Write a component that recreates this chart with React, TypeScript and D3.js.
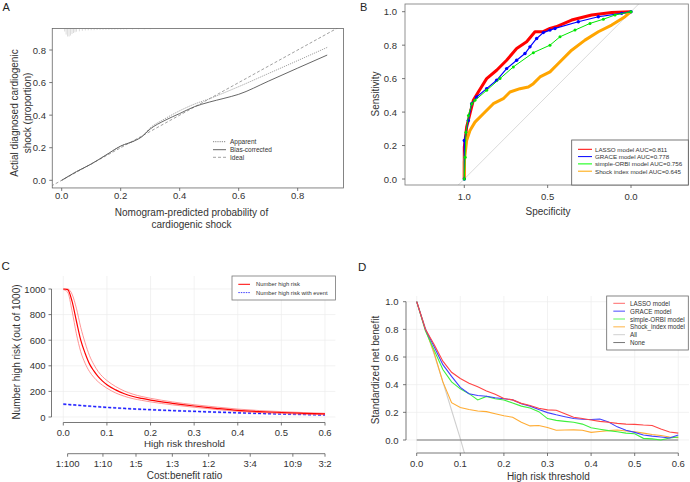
import React from "react";
import * as d3 from "d3";

const FONT = "'Liberation Sans', Arial, Helvetica, sans-serif";
const TXT = "#333";
const AX = "#555";

// ---------- A: calibration curve
const calX = [0, 0.05, 0.1, 0.15, 0.2, 0.25, 0.27, 0.3, 0.35, 0.4, 0.45, 0.5, 0.55, 0.6, 0.7, 0.8, 0.9];
const calApparent = [0, 0.053, 0.1, 0.155, 0.21, 0.245, 0.268, 0.322, 0.378, 0.427, 0.468, 0.5, 0.537, 0.575, 0.655, 0.735, 0.816];
const calBias = [0, 0.053, 0.1, 0.155, 0.21, 0.245, 0.265, 0.315, 0.368, 0.41, 0.452, 0.48, 0.503, 0.528, 0.608, 0.689, 0.769];
const idealX = [-0.05, 1];
const rugX = [0.01, 0.015, 0.02, 0.025, 0.03, 0.035, 0.04, 0.045, 0.05, 0.06, 0.07, 0.08, 0.09, 0.1, 0.11, 0.12, 0.13, 0.14, 0.15, 0.16, 0.17, 0.18, 0.19, 0.2, 0.21, 0.22, 0.24, 0.26, 0.28, 0.3];
const rugFreq = [30, 60, 80, 80, 70, 55, 45, 38, 32, 28, 24, 20, 18, 17, 16, 15, 14, 14, 13, 13, 12, 12, 11, 11, 10, 10, 10, 9, 8, 8];
const calTicks = [0, 0.2, 0.4, 0.6, 0.8];
const calLegend = ["Apparent", "Bias-corrected", "Ideal"];

// ---------- B: ROC curves
const lassoSpec = [1, 1, 0.986, 0.966, 0.946, 0.916, 0.866, 0.806, 0.746, 0.686, 0.626, 0.576, 0.53, 0.486, 0.45, 0.356, 0.236, 0.116, 0];
const lassoSens = [0, 0.19, 0.31, 0.39, 0.47, 0.52, 0.6, 0.65, 0.71, 0.78, 0.82, 0.88, 0.88, 0.9, 0.91, 0.95, 0.98, 0.995, 1];
const graceSpec = [1, 1, 0.976, 0.956, 0.926, 0.866, 0.806, 0.746, 0.686, 0.636, 0.606, 0.566, 0.526, 0.486, 0.456, 0.316, 0.196, 0.056, 0];
const graceSens = [0, 0.23, 0.35, 0.45, 0.49, 0.54, 0.59, 0.66, 0.71, 0.75, 0.79, 0.84, 0.875, 0.89, 0.9, 0.94, 0.97, 0.99, 1];
const orbiSpec = [1, 0.995, 0.99, 0.975, 0.955, 0.936, 0.866, 0.786, 0.706, 0.586, 0.486, 0.426, 0.336, 0.246, 0.166, 0.096, 0];
const orbiSens = [0, 0.13, 0.28, 0.38, 0.45, 0.47, 0.53, 0.6, 0.67, 0.755, 0.8, 0.85, 0.89, 0.93, 0.955, 0.98, 1];
const shockSpec = [1, 1, 0.995, 0.986, 0.966, 0.936, 0.886, 0.826, 0.766, 0.726, 0.666, 0.616, 0.586, 0.546, 0.486, 0.436, 0.356, 0.276, 0.196, 0.116, 0.036, 0];
const shockSens = [0, 0.1, 0.15, 0.23, 0.29, 0.34, 0.39, 0.45, 0.48, 0.52, 0.54, 0.55, 0.57, 0.61, 0.64, 0.69, 0.77, 0.83, 0.88, 0.92, 0.97, 1];
const rocTicksY = [0, 0.2, 0.4, 0.6, 0.8, 1];
const rocTicksX = [1, 0.5, 0];
const rocLegend = ["LASSO model  AUC=0.811", "GRACE model AUC=0.778", "simple-ORBI model AUC=0.756", "Shock index model AUC=0.645"];

// ---------- C: clinical impact curve
const cicT = [0, 0.01, 0.02, 0.03, 0.04, 0.05, 0.06, 0.07, 0.08, 0.09, 0.1, 0.12, 0.14, 0.16, 0.18, 0.2, 0.25, 0.3, 0.35, 0.4, 0.45, 0.5, 0.55, 0.6];
const highRisk = [1000, 995, 905, 750, 600, 498, 415, 360, 315, 280, 252, 212, 182, 160, 145, 132, 107, 86, 68, 52, 42, 35, 29, 24];
const highRiskUp = [1000, 1000, 960, 850, 700, 580, 480, 410, 355, 315, 285, 238, 203, 178, 160, 146, 118, 96, 78, 62, 50, 42, 35, 29];
const highRiskLo = [995, 975, 830, 650, 510, 420, 355, 310, 275, 248, 225, 188, 162, 143, 130, 118, 95, 76, 59, 44, 35, 28, 22, 18];
const withEvent = [100, 98, 95, 93, 90, 87, 85, 82, 80, 77, 75, 71, 67, 63, 60, 57, 50, 44, 38, 33, 28, 24, 20, 16];
const withEventUp = [104, 102, 99, 97, 94, 91, 89, 86, 84, 81, 79, 75, 71, 67, 64, 61, 54, 48, 42, 37, 32, 28, 24, 20];
const withEventLo = [96, 94, 91, 89, 86, 83, 81, 78, 76, 73, 71, 67, 63, 59, 56, 53, 46, 40, 34, 29, 24, 20, 16, 12];
const cicTicksY = [0, 200, 400, 600, 800, 1000];
const thrTicks = [0, 0.1, 0.2, 0.3, 0.4, 0.5, 0.6];
const costBenefit = ["1:100", "1:10", "1:5", "1:3", "1:2", "3:4", "10:9", "3:2"];
const cicLegend = ["Number high risk", "Number high risk with event"];

// ---------- D: decision curves
const dcaT = [0, 0.02, 0.04, 0.06, 0.08, 0.1, 0.12, 0.14, 0.16, 0.18, 0.2, 0.22, 0.24, 0.26, 0.28, 0.3, 0.32, 0.34, 0.36, 0.38, 0.4, 0.42, 0.44, 0.46, 0.48, 0.5, 0.52, 0.54, 0.56, 0.58, 0.6];
const dcaLasso = [1, 0.8, 0.69, 0.57, 0.49, 0.445, 0.41, 0.385, 0.355, 0.33, 0.3, 0.29, 0.265, 0.25, 0.23, 0.218, 0.215, 0.19, 0.165, 0.155, 0.145, 0.135, 0.128, 0.12, 0.115, 0.113, 0.108, 0.105, 0.08, 0.058, 0.05];
const dcaGrace = [1, 0.8, 0.675, 0.545, 0.46, 0.38, 0.335, 0.322, 0.316, 0.305, 0.298, 0.29, 0.262, 0.245, 0.22, 0.198, 0.182, 0.168, 0.155, 0.15, 0.148, 0.152, 0.13, 0.095, 0.07, 0.055, 0.036, 0.028, 0.022, 0.015, 0.036];
const dcaOrbi = [1, 0.79, 0.65, 0.51, 0.42, 0.37, 0.335, 0.29, 0.315, 0.298, 0.289, 0.268, 0.245, 0.232, 0.205, 0.155, 0.142, 0.135, 0.128, 0.115, 0.088, 0.078, 0.068, 0.06, 0.05, 0.045, 0.012, 0.008, 0, 0.015, 0.022];
const dcaShock = [1, 0.8, 0.63, 0.42, 0.27, 0.235, 0.22, 0.21, 0.205, 0.19, 0.175, 0.165, 0.128, 0.102, 0.105, 0.09, 0.07, 0.072, 0.073, 0.07, 0.055, 0.062, 0.068, 0.072, 0.065, 0.06, 0.05, 0.04, 0.032, 0.022, 0.017];
const allT = [0, 0.02, 0.04, 0.06, 0.08, 0.1, 0.11];
const dcaAll = [1, 0.81, 0.62, 0.42, 0.215, 0.01, -0.1];
const noneT = [0, 0.6];
const dcaNone = [0, 0];
const dcaTicksY = [0, 0.2, 0.4, 0.6, 0.8, 1];
const dcaLegend = ["LASSO model", "GRACE model", "simple-ORBI model", "Shock_index model", "All", "None"];

const f1 = d3.format(".1f");
const zip = (a: number[], b: number[]) => a.map((v, i) => [v, b[i]] as [number, number]);

function Txt(p: any) {
  const { children, size = 9.5, anchor = "middle", ...rest } = p;
  return (
    <text fontFamily={FONT} fontSize={size} fill={TXT} textAnchor={anchor} dominantBaseline="central" {...rest}>
      {children}
    </text>
  );
}

function LeftTicks({ scale, ticks, x, fmt, labelX }: any) {
  return (
    <g>
      {ticks.map((t: number) => (
        <g key={t}>
          <line x1={x - 3} x2={x} y1={scale(t)} y2={scale(t)} stroke={AX} strokeWidth={0.8} />
          <Txt x={labelX} y={scale(t)} anchor="end">{fmt(t)}</Txt>
        </g>
      ))}
    </g>
  );
}

function BottomTicks({ scale, ticks, y, fmt, labelY, dir = 1 }: any) {
  return (
    <g>
      {ticks.map((t: any, i: number) => (
        <g key={i}>
          <line x1={scale(t)} x2={scale(t)} y1={y} y2={y + 3 * dir} stroke={AX} strokeWidth={0.8} />
          <Txt x={scale(t)} y={labelY}>{fmt(t, i)}</Txt>
        </g>
      ))}
    </g>
  );
}

function PanelA() {
  const x = d3.scaleLinear().domain([0, 0.8]).range([61.7, 297.7]);
  const y = d3.scaleLinear().domain([0, 0.8]).range([180.3, 50]);
  const L = x(-0.032), R = x(0.955), T = y(0.932), B = y(-0.047);
  const line = d3.line<[number, number]>().x((d) => x(d[0])).y((d) => y(d[1]));
  const smooth = d3.line<[number, number]>().x((d) => x(d[0])).y((d) => y(d[1])).curve(d3.curveMonotoneX);
  const rugLen = d3.scaleLinear().domain([0, 80]).range([0, 8]);
  return (
    <g>
      <defs>
        <clipPath id="clipA"><rect x={L} y={T} width={R - L} height={B - T} /></clipPath>
      </defs>
      <Txt x={2.5} y={7} size={11} anchor="start" fill="#222">A</Txt>
      <g clipPath="url(#clipA)">
        {rugX.map((v, i) => (
          <line key={i} x1={x(v)} x2={x(v)} y1={T} y2={T + rugLen(rugFreq[i])} stroke="#b0b0b0" strokeWidth={0.45} />
        ))}
        <path d={line(zip(idealX, idealX)) || ""} fill="none" stroke="#888" strokeWidth={0.8} strokeDasharray="3,2" />
        <path d={smooth(zip(calX, calApparent)) || ""} fill="none" stroke="#999" strokeWidth={0.9} strokeDasharray="1.2,1" />
        <path d={smooth(zip(calX, calBias)) || ""} fill="none" stroke="#555" strokeWidth={0.9} />
      </g>
      <rect x={L} y={T} width={R - L} height={B - T} fill="none" stroke="#666" strokeWidth={0.8} />
      <LeftTicks scale={y} ticks={[0, 0.2, 0.4, 0.6, 0.8]} x={L} fmt={f1} labelX={46} />
      <BottomTicks scale={x} ticks={calTicks} y={B} fmt={f1} labelY={195.5} />
      <Txt x={191.5} y={212.5} size={10}>Nomogram-predicted probability of</Txt>
      <Txt x={191.5} y={224} size={10}>cardiogenic shock</Txt>
      <Txt x={0} y={0} size={10} transform="translate(14.5,113) rotate(-90)">Actial diagnosed cardiogenic</Txt>
      <Txt x={0} y={0} size={10} transform="translate(27,113) rotate(-90)">shock (proportion)</Txt>
      {calLegend.map((s, i) => {
        const ly = [141.7, 149.7, 157.3][i];
        const st = [
          { stroke: "#777", dash: "1.2,1" },
          { stroke: "#555", dash: "" },
          { stroke: "#999", dash: "3,2" },
        ][i];
        return (
          <g key={s}>
            <line x1={213} x2={226} y1={ly} y2={ly} stroke={st.stroke} strokeWidth={0.9} strokeDasharray={st.dash} />
            <Txt x={230} y={ly} size={6.5} anchor="start">{s}</Txt>
          </g>
        );
      })}
    </g>
  );
}

function PanelB() {
  const x = d3.scaleLinear().domain([1, 0]).range([464.3, 631]);
  const y = d3.scaleLinear().domain([0, 1]).range([179, 11.7]);
  const L = 405, R = 688.3, T = 4, B = 185;
  const line = d3.line<[number, number]>().x((d) => x(d[0])).y((d) => y(d[1]));
  const series = [
    { s: lassoSpec, v: lassoSens, c: "#ff0000", w: 3, r: 0 },
    { s: shockSpec, v: shockSens, c: "#ffa500", w: 3, r: 0 },
    { s: graceSpec, v: graceSens, c: "#0000ff", w: 1.2, r: 1.7 },
    { s: orbiSpec, v: orbiSens, c: "#00e600", w: 1, r: 1.5 },
  ];
  const legColors = ["#ff0000", "#0000ff", "#00ff00", "#ffa500"];
  return (
    <g>
      <defs>
        <clipPath id="clipB"><rect x={L} y={T} width={R - L} height={B - T} /></clipPath>
      </defs>
      <Txt x={360} y={7} size={11} anchor="start" fill="#222">B</Txt>
      <g clipPath="url(#clipB)">
        <path d={line([[1.4, -0.4], [-0.4, 1.4]]) || ""} stroke="#d0d0d0" strokeWidth={0.8} fill="none" />
        {series.map((sr, k) => (
          <g key={k}>
            <path d={line(zip(sr.s, sr.v)) || ""} fill="none" stroke={sr.c} strokeWidth={sr.w} strokeLinejoin="round" />
            {sr.r > 0 && sr.s.map((sp, i) => <circle key={i} cx={x(sp)} cy={y(sr.v[i])} r={sr.r} fill={sr.c} />)}
          </g>
        ))}
      </g>
      <rect x={L} y={T} width={R - L} height={B - T} fill="none" stroke="#777" strokeWidth={0.8} />
      <LeftTicks scale={y} ticks={rocTicksY} x={L} fmt={f1} labelX={397} />
      <BottomTicks scale={x} ticks={rocTicksX} y={B} fmt={f1} labelY={196} />
      <Txt x={548} y={211.7} size={10}>Specificity</Txt>
      <Txt x={0} y={0} size={10} transform="translate(375,94) rotate(-90)">Sensitivity</Txt>
      <rect x={571.7} y={140} width={R - 571.7} height={B - 140} fill="#fff" stroke="#555" strokeWidth={0.8} />
      {rocLegend.map((s, i) => {
        const ly = 149.3 + i * 7.3;
        return (
          <g key={s}>
            <line x1={578} x2={592} y1={ly} y2={ly} stroke={legColors[i]} strokeWidth={1} />
            <Txt x={595} y={ly} size={6.2} anchor="start">{s}</Txt>
          </g>
        );
      })}
    </g>
  );
}

function PanelC() {
  const x = d3.scaleLinear().domain([0, 0.6]).range([63.3, 325]);
  const y = d3.scaleLinear().domain([0, 1000]).range([417, 289]);
  const L = 51.5, R = 335.4, T = 276, B = 422.5;
  const line = d3.line<[number, number]>().x((d) => x(d[0])).y((d) => y(d[1])).curve(d3.curveMonotoneX);
  const cbPos = (s: string) => {
    const [a, b] = s.split(":").map(Number);
    return a / (a + b);
  };
  const cbT = costBenefit.map(cbPos);
  const axY2 = 453.7;
  return (
    <g>
      <Txt x={1.5} y={265.5} size={11.5} anchor="start" fill="#222">C</Txt>
      {thrTicks.map((t) => <line key={"v" + t} x1={x(t)} x2={x(t)} y1={T} y2={B} stroke="#ececec" strokeWidth={0.7} />)}
      {cicTicksY.map((t) => <line key={"h" + t} x1={L} x2={R} y1={y(t)} y2={y(t)} stroke="#ececec" strokeWidth={0.7} />)}
      <path d={line(zip(cicT, withEventUp)) || ""} fill="none" stroke="#7a7aff" strokeWidth={0.8} strokeDasharray="3,2" />
      <path d={line(zip(cicT, withEventLo)) || ""} fill="none" stroke="#7a7aff" strokeWidth={0.8} strokeDasharray="3,2" />
      <path d={line(zip(cicT, withEvent)) || ""} fill="none" stroke="#2020ff" strokeWidth={1.2} strokeDasharray="3,2" />
      <path d={line(zip(cicT, highRiskUp)) || ""} fill="none" stroke="#ff7a7a" strokeWidth={0.8} />
      <path d={line(zip(cicT, highRiskLo)) || ""} fill="none" stroke="#ff7a7a" strokeWidth={0.8} />
      <path d={line(zip(cicT, highRisk)) || ""} fill="none" stroke="#ff0000" strokeWidth={1.2} />
      <line x1={L} x2={L} y1={y(0)} y2={y(1000)} stroke={AX} strokeWidth={0.8} />
      <LeftTicks scale={y} ticks={cicTicksY} x={L} fmt={(v: number) => String(v)} labelX={45.5} />
      <line x1={x(0)} x2={x(0.6)} y1={B} y2={B} stroke={AX} strokeWidth={0.8} />
      <BottomTicks scale={x} ticks={thrTicks} y={B} fmt={f1} labelY={432} />
      <Txt x={184.5} y={443.3} size={9.8}>High risk threshold</Txt>
      <line x1={x(cbT[0])} x2={x(cbT[cbT.length - 1])} y1={axY2} y2={axY2} stroke={AX} strokeWidth={0.8} />
      <BottomTicks scale={x} ticks={cbT} y={axY2} fmt={(_: number, i: number) => costBenefit[i]} labelY={463.5} />
      <Txt x={184.5} y={475.5} size={10}>Cost:benefit ratio</Txt>
      <Txt x={0} y={0} size={10} transform="translate(16,352) rotate(-90)">Number high risk (out of 1000)</Txt>
      <rect x={232} y={T} width={335.4 - 232} height={24} fill="#fff" stroke="#777" strokeWidth={0.8} />
      {cicLegend.map((s, i) => {
        const ly = 284.3 + i * 8.3;
        return (
          <g key={s}>
            <line x1={238.3} x2={250} y1={ly} y2={ly} stroke={i === 0 ? "#ff0000" : "#4040ff"} strokeWidth={1} strokeDasharray={i === 0 ? "" : "1.5,1"} />
            <Txt x={256} y={ly} size={5.8} anchor="start">{s}</Txt>
          </g>
        );
      })}
    </g>
  );
}

function PanelD() {
  const x = d3.scaleLinear().domain([0, 0.6]).range([416.7, 678.3]);
  const y = d3.scaleLinear().domain([0, 1]).range([440, 301.7]);
  const L = 406, R = 689, T = 296, B = 453;
  const line = d3.line<[number, number]>().x((d) => x(d[0])).y((d) => y(d[1]));
  const series = [
    { t: allT, v: dcaAll, c: "#cfcfcf" },
    { t: noneT, v: dcaNone, c: "#777" },
    { t: dcaT, v: dcaShock, c: "#ffac33" },
    { t: dcaT, v: dcaOrbi, c: "#3df03d" },
    { t: dcaT, v: dcaGrace, c: "#4040ff" },
    { t: dcaT, v: dcaLasso, c: "#ff4545" },
  ];
  const legColors = ["#ff6b6b", "#4a4aff", "#5cf55c", "#ffb444", "#d0d0d0", "#777"];
  return (
    <g>
      <defs>
        <clipPath id="clipD"><rect x={L} y={T} width={R - L} height={B - T} /></clipPath>
      </defs>
      <Txt x={358} y={267} size={11.5} anchor="start" fill="#222">D</Txt>
      {thrTicks.map((t) => <line key={"v" + t} x1={x(t)} x2={x(t)} y1={T} y2={B} stroke="#ececec" strokeWidth={0.7} />)}
      {dcaTicksY.map((t) => <line key={"h" + t} x1={L} x2={R} y1={y(t)} y2={y(t)} stroke="#ececec" strokeWidth={0.7} />)}
      <g clipPath="url(#clipD)">
        {series.map((sr, k) => (
          <path key={k} d={line(zip(sr.t, sr.v)) || ""} fill="none" stroke={sr.c} strokeWidth={k === 1 ? 1.2 : 1.1} />
        ))}
      </g>
      <line x1={L} x2={L} y1={y(0)} y2={y(1)} stroke={AX} strokeWidth={0.8} />
      <LeftTicks scale={y} ticks={dcaTicksY} x={L} fmt={f1} labelX={398.5} />
      <line x1={x(0)} x2={x(0.6)} y1={B} y2={B} stroke={AX} strokeWidth={0.8} />
      <BottomTicks scale={x} ticks={thrTicks} y={B} fmt={f1} labelY={463.3} />
      <Txt x={548.3} y={476} size={10}>High risk threshold</Txt>
      <Txt x={0} y={0} size={10} transform="translate(375.5,370) rotate(-90)">Standardized net benefit</Txt>
      <rect x={606.7} y={T} width={R - 0.7 - 606.7} height={54} fill="#fff" stroke="#666" strokeWidth={0.8} />
      {dcaLegend.map((s, i) => {
        const ly = 303.3 + i * 7.85;
        return (
          <g key={s}>
            <line x1={613.3} x2={625} y1={ly} y2={ly} stroke={legColors[i]} strokeWidth={1} />
            <Txt x={630} y={ly} size={6.3} anchor="start">{s}</Txt>
          </g>
        );
      })}
    </g>
  );
}

export default function App() {
  return (
    <svg width={690} height={482} style={{ position: "absolute", left: 0, top: 0, background: "#fff" }}>
      <rect width={690} height={482} fill="#fff" />
      <PanelA />
      <PanelB />
      <PanelC />
      <PanelD />
    </svg>
  );
}
